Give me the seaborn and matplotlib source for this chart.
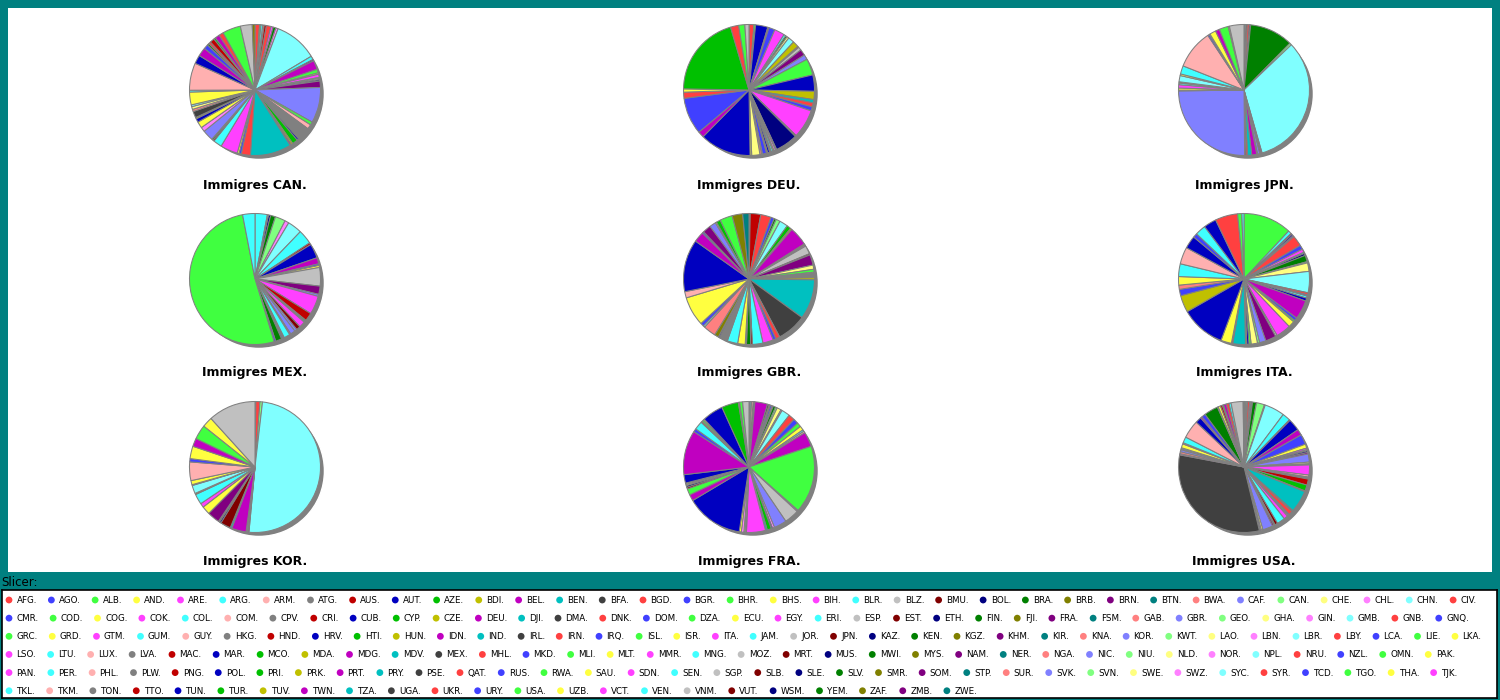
import matplotlib
matplotlib.use("Agg")
import matplotlib.pyplot as plt
import seaborn as sns

W, H = 1500, 700

COUNTRIES = [
    "AFG", "AGO", "ALB", "AND", "ARE", "ARG", "ARM", "ATG", "AUS", "AUT", "AZE", "BDI", "BEL", "BEN", "BFA",
    "BGD", "BGR", "BHR", "BHS", "BIH", "BLR", "BLZ", "BMU", "BOL", "BRA", "BRB", "BRN", "BTN", "BWA", "CAF",
    "CAN", "CHE", "CHL", "CHN", "CIV", "CMR", "COD", "COG", "COK", "COL", "COM", "CPV", "CRI", "CUB", "CYP",
    "CZE", "DEU", "DJI", "DMA", "DNK", "DOM", "DZA", "ECU", "EGY", "ERI", "ESP", "EST", "ETH", "FIN", "FJI",
    "FRA", "FSM", "GAB", "GBR", "GEO", "GHA", "GIN", "GMB", "GNB", "GNQ", "GRC", "GRD", "GTM", "GUM", "GUY",
    "HKG", "HND", "HRV", "HTI", "HUN", "IDN", "IND", "IRL", "IRN", "IRQ", "ISL", "ISR", "ITA", "JAM", "JOR",
    "JPN", "KAZ", "KEN", "KGZ", "KHM", "KIR", "KNA", "KOR", "KWT", "LAO", "LBN", "LBR", "LBY", "LCA", "LIE",
    "LKA", "LSO", "LTU", "LUX", "LVA", "MAC", "MAR", "MCO", "MDA", "MDG", "MDV", "MEX", "MHL", "MKD", "MLI",
    "MLT", "MMR", "MNG", "MOZ", "MRT", "MUS", "MWI", "MYS", "NAM", "NER", "NGA", "NIC", "NIU", "NLD", "NOR",
    "NPL", "NRU", "NZL", "OMN", "PAK", "PAN", "PER", "PHL", "PLW", "PNG", "POL", "PRI", "PRK", "PRT", "PRY",
    "PSE", "QAT", "RUS", "RWA", "SAU", "SDN", "SEN", "SGP", "SLB", "SLE", "SLV", "SMR", "SOM", "STP", "SUR",
    "SVK", "SVN", "SWE", "SWZ", "SYC", "SYR", "TCD", "TGO", "THA", "TJK", "TKL", "TKM", "TON", "TTO", "TUN",
    "TUR", "TUV", "TWN", "TZA", "UGA", "UKR", "URY", "USA", "UZB", "VCT", "VEN", "VNM", "VUT", "WSM", "YEM",
    "ZAF", "ZMB", "ZWE",
]

PALETTE = [
    "#FF4040", "#4040FF", "#40FF40", "#FFFF40", "#FF40FF", "#40FFFF", "#FFB0B0", "#808080",
    "#C00000", "#0000C0", "#00C000", "#C0C000", "#C000C0", "#00C0C0", "#404040",
    "#FF4040", "#4040FF", "#40FF40", "#FFFF40", "#FF40FF", "#40FFFF", "#C0C0C0",
    "#800000", "#000080", "#008000", "#808000", "#800080", "#008080",
    "#FF8080", "#8080FF", "#80FF80", "#FFFF80", "#FF80FF", "#80FFFF",
]

DESTINATIONS = ["CAN", "DEU", "JPN", "MEX", "GBR", "ITA", "KOR", "FRA", "USA"]

# share of immigrants by origin (%); other origins ~0
CAN = {"AFG": 1.0, "ALB": .3, "ARG": .4, "ARM": .3, "AUS": .5, "BGD": 1.0, "BIH": .5, "BRA": .6, "CHL": .5,
       "CHN": 9.5, "COL": .8, "CUB": .3, "DEU": 2.0, "DZA": .8, "ECU": .3, "EGY": .7, "ERI": .2, "ESP": .3,
       "ETH": .3, "FRA": 1.4, "GBR": 7.8, "GRC": .7, "GUY": 1.0, "HKG": 3.0, "HRV": .4, "HTI": 1.2, "HUN": .4,
       "IDN": .3, "IND": 9.0, "IRN": 2.0, "IRQ": .5, "ISR": .4, "ITA": 3.8, "JAM": 1.9, "JPN": .3, "KEN": .3,
       "KOR": 2.4, "LBN": 1.0, "LKA": 1.4, "MAR": .8, "MDA": .3, "MEX": 1.4, "NGA": .5, "NLD": .6, "NPL": .4,
       "PAK": 2.8, "PER": .4, "PHL": 6.0, "POL": 1.9, "PRT": 1.9, "RUS": 1.0, "SLV": .4, "SYR": .5, "TTO": 1.0,
       "TUR": .4, "TWN": 1.0, "UKR": 1.0, "USA": 4.0, "VNM": 2.6, "ZAF": .6}
DEU = {"AFG": 1.2, "ALB": .4, "AUT": 3.0, "BEL": .3, "BGR": 1.5, "BIH": 2.5, "BLR": .5, "BRA": .4, "CHE": .5,
       "CHN": 1.5, "CZE": 1.5, "DNK": .3, "ESP": .8, "FRA": 1.5, "GBR": 1.2, "GRC": 4.0, "HRV": 4.0, "HUN": 2.0,
       "IND": .8, "IRN": 1.0, "IRQ": 1.0, "ITA": 7.0, "JPN": .3, "KAZ": 5.5, "KOR": .3, "LBN": .4, "LKA": .3,
       "LTU": .4, "LVA": .4, "MAR": .5, "MDA": .3, "MKD": 1.0, "MNG": .2, "NGA": .4, "NLD": 2.0, "PAK": .4,
       "POL": 12.5, "PRT": 1.5, "RUS": 9.0, "SYR": 1.5, "THA": .8, "TUR": 20.0, "UKR": 2.0, "USA": 1.5,
       "VNM": 1.0}
JPN = {"AFG": .2, "ARG": .3, "AUS": .3, "BGD": .5, "BOL": .3, "BRA": 10.5, "CAN": .5, "CHN": 32.0, "DEU": .3,
       "FRA": .3, "GBR": .5, "HKG": .2, "IDN": 1.2, "IND": 1.0, "IRN": .4, "KHM": .3, "KOR": 24.4, "LAO": .2,
       "LKA": .5, "MMR": .8, "MNG": .4, "MYS": .3, "NPL": 1.5, "PAK": .4, "PER": 2.0, "PHL": 9.5, "RUS": .4,
       "SGP": .2, "THA": 1.5, "TWN": 1.0, "USA": 2.2, "UZB": .3, "VNM": 3.5}
MEX = {"ARG": 3.0, "BLZ": .3, "BOL": .5, "BRA": 1.2, "CAN": 2.5, "CHL": 1.0, "CHN": 3.5, "COL": 3.5, "CRI": .5,
       "CUB": 3.5, "DEU": 1.5, "DOM": .4, "ECU": .5, "ESP": 4.5, "FRA": 2.0, "GBR": .5, "GTM": 4.5, "HND": 2.0,
       "HTI": .3, "IND": .3, "ITA": 1.5, "JPN": 1.0, "KOR": .6, "NIC": 1.2, "PAN": .3, "PER": 1.5, "PHL": .2,
       "PRY": .2, "RUS": .3, "SLV": 1.5, "URY": .4, "USA": 51.0, "VEN": 3.0}
GBR = {"AFG": .3, "AUS": 2.5, "BGD": 2.5, "BGR": .8, "BRA": .5, "CAN": 1.0, "CHN": 2.0, "CYP": 1.0, "CZE": .4,
       "DEU": 4.5, "DNK": .3, "EGY": .3, "ESP": 2.0, "EST": .3, "FRA": 2.5, "GHA": 1.0, "GRC": .7, "GUY": .3,
       "HKG": 1.0, "HUN": .5, "IND": 9.5, "IRL": 7.0, "IRN": 1.0, "IRQ": .7, "ITA": 2.5, "JAM": 2.5, "JPN": .4,
       "KEN": 1.0, "KOR": .3, "LKA": 1.8, "LTU": 2.5, "LVA": 2.0, "MAR": .3, "MYS": 1.0, "NGA": 3.0, "NPL": .4,
       "NZL": .8, "PAK": 7.0, "PHL": 1.5, "POL": 12.5, "PRT": 2.5, "RUS": .4, "SOM": 2.0, "SVK": 1.5, "SWE": .3,
       "TUR": 1.0, "USA": 3.0, "ZAF": 2.5, "ZWE": 1.5}
ITA = {"ALB": 11.4, "ARG": .8, "AUS": .3, "AUT": .4, "BEL": .3, "BGD": 2.5, "BGR": 1.0, "BIH": .8, "BLR": .3,
       "BOL": .5, "BRA": 1.5, "CAN": .3, "CHE": 2.0, "CHN": 5.0, "CIV": .5, "CMR": .3, "COL": .5, "CUB": .7,
       "DEU": 4.5, "DOM": .7, "DZA": .4, "ECU": 1.5, "EGY": 3.5, "ESP": .4, "FRA": 2.5, "GBR": 1.5, "GEO": .5,
       "GHA": 1.5, "GRC": .5, "HRV": .5, "HUN": .3, "IND": 3.0, "IRN": .3, "LKA": 2.5, "MAR": 10.5, "MDA": 4.0,
       "MKD": 1.5, "NGA": 1.0, "PAK": 2.0, "PER": 3.0, "PHL": 4.0, "POL": 3.0, "RUS": 1.0, "SEN": 2.5,
       "TUN": 3.0, "UKR": 5.3, "USA": 1.0, "VEN": .5}
KOR = {"AUS": .2, "BGD": 1.0, "CAN": .6, "CHN": 48.7, "DEU": .2, "FRA": .2, "GBR": .3, "IDN": 3.5, "IND": .4,
       "JPN": 2.5, "KAZ": .4, "KGZ": .3, "KHM": 3.0, "LKA": 2.0, "MMR": 1.0, "MNG": 2.5, "MYS": .3, "NPL": 2.0,
       "NZL": .2, "PAK": 1.0, "PHL": 4.5, "RUS": .8, "THA": 3.0, "TWN": 2.0, "USA": 3.5, "UZB": 2.5,
       "VNM": 11.5}
FRA = {"AGO": .3, "ARG": .3, "ARM": .4, "AUS": .2, "AUT": .2, "BEL": 3.0, "BFA": .4, "BGD": .3, "BGR": .4,
       "BIH": .3, "BRA": .6, "CAN": .4, "CHE": 1.0, "CHL": .3, "CHN": 2.0, "CIV": 1.5, "CMR": 1.2, "COD": 1.0,
       "COG": 1.0, "COL": .4, "COM": .4, "DEU": 3.5, "DZA": 16.0, "EGY": .3, "ESP": 3.5, "GBR": 3.0, "GIN": .5,
       "HRV": .3, "HTI": 1.0, "IND": .4, "ITA": 4.5, "KHM": .3, "LAO": .3, "LBN": .6, "LKA": .5, "MAR": 13.5,
       "MDG": 1.5, "MLI": 1.5, "MRT": .4, "MUS": .4, "NLD": .3, "PAK": .3, "POL": 2.0, "PRT": 10.5, "RUS": .8,
       "SEN": 2.0, "SYR": .3, "TGO": .4, "THA": .3, "TUN": 5.0, "TUR": 4.0, "UKR": .3, "USA": .7, "VNM": 1.5}
USA = {"AFG": .2, "ALB": .2, "ARG": .3, "ARM": .2, "BGD": .5, "BIH": .3, "BLZ": .2, "BOL": .2, "BRA": 1.0,
       "CAN": 2.0, "CHL": .2, "CHN": 5.0, "COL": 2.0, "CRI": .2, "CUB": 3.0, "DEU": 1.5, "DOM": 2.5, "ECU": 1.0,
       "EGY": .4, "ESP": .3, "ETH": .4, "FRA": .4, "GBR": 2.0, "GHA": .4, "GRC": .3, "GTM": 2.5, "GUY": .5,
       "HKG": .5, "HND": 1.5, "HTI": 1.5, "IDN": .2, "IND": 5.5, "IRL": .3, "IRN": 1.0, "IRQ": .3, "ISR": .3,
       "ITA": 1.0, "JAM": 2.0, "JPN": .7, "KEN": .3, "KHM": .4, "KOR": 2.5, "LAO": .4, "LBN": .3, "MAR": .2,
       "MEX": 32.0, "MMR": .3, "NGA": .5, "NIC": .5, "NLD": .2, "NPL": .3, "PAK": 1.0, "PAN": .3, "PER": 1.5,
       "PHL": 4.5, "POL": 1.5, "PRT": .4, "RUS": 1.0, "SLV": 3.5, "SOM": .2, "THA": .6, "TTO": .5, "TUR": .3,
       "TWN": .7, "UKR": .7, "VEN": .5, "VNM": 3.0, "YEM": .2}

SHARES = [CAN, DEU, JPN, MEX, GBR, ITA, KOR, FRA, USA]

# layout in pixels
PIE_X = [255, 749, 1244]
PIE_Y = [90, 279, 467]
TITLE_Y = [186, 373, 561]
R = 65.5
LEGEND_ROW_SIZES = [35, 35, 36, 34, 35, 23]

sns.set_theme(style="white")
plt.rcParams["font.family"] = ["DejaVu Sans"]

colors = sns.color_palette(PALETTE)
country_color = {c: colors[i % len(colors)] for i, c in enumerate(COUNTRIES)}

fig = plt.figure(figsize=(W / 100, H / 100), dpi=100, facecolor="#008080")

# white panel behind the pies
panel = fig.add_axes([8 / W, 1 - 572 / H, (1492 - 8) / W, (572 - 8) / H])
panel.set_facecolor("white"); panel.set_xticks([]); panel.set_yticks([])
for s in panel.spines.values():
    s.set_visible(False)

for k, (dest, shares) in enumerate(zip(DESTINATIONS, SHARES)):
    cx, cy = PIE_X[k % 3], PIE_Y[k // 3]
    side = 2 * 1.25 * R
    ax = fig.add_axes([(cx - side / 2) / W, 1 - (cy + side / 2) / H, side / W, side / H])
    vals = [shares[c] for c in COUNTRIES if shares.get(c, 0) > 0]
    cols = [country_color[c] for c in COUNTRIES if shares.get(c, 0) > 0]
    # shadow
    ax.pie([1], colors=["#808080"], radius=1, center=(0.06, -0.06), startangle=90)
    ax.pie(vals, colors=cols, radius=1, startangle=90, counterclock=False,
           wedgeprops=dict(edgecolor="#808080", linewidth=0.75))
    ax.set_xlim(-1.25, 1.25); ax.set_ylim(-1.25, 1.25)
    ax.set_aspect("equal")
    fig.text(cx / W, 1 - TITLE_Y[k // 3] / H, f"Immigres {dest}.", ha="center", va="center",
             fontsize=9, fontweight="bold", color="black")

fig.text(1 / W, 1 - 582 / H, "Slicer:", ha="left", va="center", fontsize=8.5, color="black")

leg = fig.add_axes([2 / W, 1 - 698 / H, 1495 / W, 108 / H])
leg.set_xlim(2, 1497); leg.set_ylim(698, 590)
leg.set_facecolor("white"); leg.set_xticks([]); leg.set_yticks([])
for s in leg.spines.values():
    s.set_color("black"); s.set_linewidth(1.2)

renderer = fig.canvas.get_renderer()
start = 0
for r, n in enumerate(LEGEND_ROW_SIZES):
    y = 600 + r * 18.15
    x = 9
    for code in COUNTRIES[start:start + n]:
        leg.scatter([x], [y], s=24, color=country_color[code], edgecolors="none", zorder=3)
        t = leg.text(x + 7.5, y + 0.5, code + ".", fontsize=6.3, ha="left", va="center", color="black")
        x += 7.5 + t.get_window_extent(renderer).width + 14.5
    start += n

fig.savefig("out.png", dpi=100, facecolor=fig.get_facecolor())
